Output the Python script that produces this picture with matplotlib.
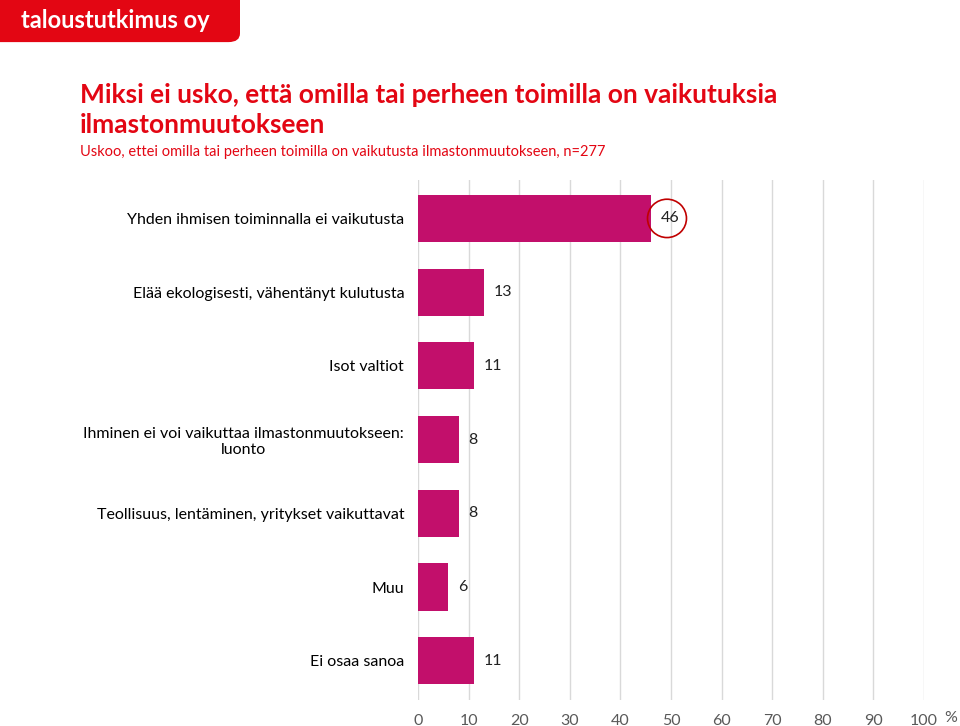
import matplotlib.pyplot as plt
from matplotlib.patches import Ellipse, FancyBboxPatch

categories = [
    'Yhden ihmisen toiminnalla ei vaikutusta',
    'Elää ekologisesti, vähentänyt kulutusta',
    'Isot valtiot',
    'Ihminen ei voi vaikuttaa ilmastonmuutokseen:\nluonto',
    'Teollisuus, lentäminen, yritykset vaikuttavat',
    'Muu',
    'Ei osaa sanoa',
]
values = [46, 13, 11, 8, 8, 6, 11]
labels = ['46', '13', '11', '8', '8', '6', '11']
xticks = [0, 10, 20, 30, 40, 50, 60, 70, 80, 90, 100]

bar_color = '#C20F6B'
red = '#E30613'
font = ['Lato', 'DejaVu Sans']
plt.rcParams['font.family'] = font

fig = plt.figure(figsize=(9.6, 7.26), dpi=100)

# logo box
logo = FancyBboxPatch((-0.02, 0.942), 0.27, 0.08, boxstyle='round,pad=0,rounding_size=0.012',
                      transform=fig.transFigure, facecolor=red, edgecolor='none')
fig.patches.append(logo)
fig.text(0.022, 0.972, 'taloustutkimus oy', color='white', fontsize=17,
         fontweight='bold', va='center', ha='left')

fig.text(0.083, 0.869, 'Miksi ei usko, että omilla tai perheen toimilla on vaikutuksia',
         color=red, fontsize=19, fontweight='bold', va='center', ha='left')
fig.text(0.083, 0.828, 'ilmastonmuutokseen',
         color=red, fontsize=19, fontweight='bold', va='center', ha='left')
fig.text(0.083, 0.790, 'Uskoo, ettei omilla tai perheen toimilla on vaikutusta ilmastonmuutokseen, n=277',
         color=red, fontsize=10.5, va='center', ha='left')

ax = fig.add_axes([0.4355, 0.036, 0.527, 0.716])
y = list(range(len(categories)))
ax.barh(y, values, height=0.64, color=bar_color, zorder=2)
ax.set_xlim(0, 100)
ax.set_ylim(len(categories) - 0.47, -0.52)
ax.set_xticks(xticks)
ax.set_xticklabels([str(t) for t in xticks])
ax.grid(axis='x', color='#D9D9D9', linewidth=1, zorder=0)
ax.set_yticks(y)
ax.set_yticklabels(categories, fontsize=11.5, multialignment='center')
ax.tick_params(axis='y', length=0, pad=10)
ax.tick_params(axis='x', length=0, labelsize=11.5, labelcolor='#595959', pad=10)
for s in ax.spines.values():
    s.set_visible(False)

for i, (v, lab) in enumerate(zip(values, labels)):
    ax.text(v + 2.0, i, lab, va='center', ha='left', fontsize=11.5, color='#222222')

# highlight on the top value
ax.add_patch(Ellipse((values[0] + 3.2, 0), 7.7, 0.52, fill=False, edgecolor='#C00000',
                     linewidth=1.2, zorder=3, clip_on=False))

fig.text(0.99, 0.011, '%', color='#595959', fontsize=11.5, ha='center', va='center')

fig.savefig('out.png', dpi=100)
